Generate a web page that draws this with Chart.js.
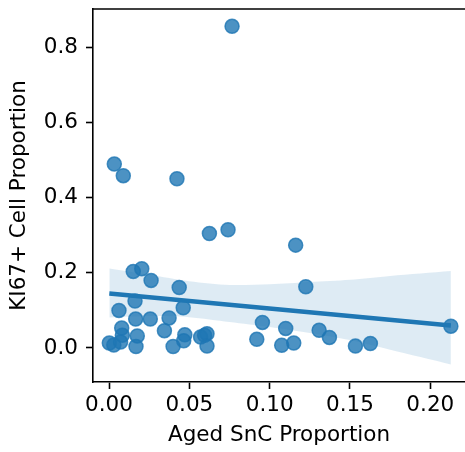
<!DOCTYPE html>
<html>
<head>
<meta charset="utf-8">
<script src="https://cdn.jsdelivr.net/npm/chart.js@4"></script>
<style>
    body { margin: 0; background: #fff; }
    #chart_box { width: 465px; height: 452px; }
</style>
</head>
<body>
<div id="chart_box"><canvas id="reg_chart" width="465" height="452"></canvas></div>
<script>
// scatter values
let aged_snc = [
    0.0766, 0.0033, 0.0089, 0.0423, 0.0625, 0.0741, 0.1162, 0.1225,
    0.0955, 0.0920, 0.1100, 0.1075, 0.1150, 0.1308, 0.1372, 0.1534,
    0.1627, 0.2128, 0.0151, 0.0204, 0.0262, 0.0437, 0.0162, 0.0462,
    0.0062, 0.0166, 0.0257, 0.0374, 0.0345, 0.0079, 0.0083, 0.0176,
    0.0472, 0.0465, 0.0399, 0.0168, 0.0002, 0.0030, 0.0072, 0.0570,
    0.0595, 0.0610, 0.0610
];
let ki67 = [
    0.857, 0.490, 0.459, 0.451, 0.305, 0.315, 0.274, 0.163,
    0.068, 0.023, 0.052, 0.007, 0.013, 0.047, 0.028, 0.005,
    0.012, 0.058, 0.204, 0.211, 0.180, 0.161, 0.125, 0.107,
    0.100, 0.077, 0.077, 0.080, 0.046, 0.053, 0.034, 0.032,
    0.035, 0.019, 0.004, 0.004, 0.013, 0.008, 0.016, 0.029,
    0.034, 0.038, 0.005
];

// regression line ends and the confidence band
let fit_x = [0.0002, 0.2128];
let fit_y = [0.145, 0.060];
let band_x = [0.0002, 0.025, 0.05, 0.075, 0.10, 0.125, 0.15, 0.175, 0.2128];
let band_upper = [0.212, 0.195, 0.178, 0.168, 0.170, 0.176, 0.182, 0.192, 0.205];
let band_lower = [0.081, 0.085, 0.082, 0.069, 0.056, 0.040, 0.021, -0.005, -0.044];

let x_ticks = [0.00, 0.05, 0.10, 0.15, 0.20];
let y_ticks = [0.0, 0.2, 0.4, 0.6, 0.8];

const blue = '#1f77b4';

Chart.defaults.font.family = "'DejaVu Sans', sans-serif";
Chart.defaults.font.size = 21.5;
Chart.defaults.color = '#000';

function pts(xs, ys) {
    return xs.map((x, i) => ({x: x, y: ys[i]}));
}

// matplotlib keeps the top spine, chart.js has none
let top_spine = {
    id: 'top_spine',
    afterDraw(chart) {
        let ctx = chart.ctx, a = chart.chartArea;
        ctx.save();
        ctx.strokeStyle = '#000';
        ctx.lineWidth = 1.6;
        ctx.beginPath();
        ctx.moveTo(a.left - 0.8, a.top);
        ctx.lineTo(a.right, a.top);
        ctx.stroke();
        ctx.restore();
    }
};

// no extra room for the end labels, the area is fixed by hand
function no_pad(s) {
    s.paddingTop = 0; s.paddingBottom = 0;
    s.paddingLeft = 0; s.paddingRight = 0;
}

let axis_grid = {drawOnChartArea: false, drawTicks: true, tickLength: 7, tickWidth: 1.6, tickColor: '#000'};
let axis_border = {display: true, color: '#000', width: 1.6};

let chart = new Chart(document.getElementById('reg_chart').getContext('2d'), {
    type: 'scatter',
    data: {
        datasets: [
            {
                data: pts(aged_snc, ki67), order: 3,
                backgroundColor: 'rgba(31,119,180,0.8)', borderColor: 'rgba(31,119,180,0.8)',
                borderWidth: 1.5, pointRadius: 7
            },
            {
                type: 'line', data: pts(band_x, band_upper), order: 2,
                borderWidth: 0, pointRadius: 0, fill: false, tension: 0.3
            },
            {
                type: 'line', data: pts(band_x, band_lower), order: 2,
                borderWidth: 0, pointRadius: 0, fill: '-1', tension: 0.3,
                backgroundColor: 'rgba(31,119,180,0.15)'
            },
            {
                type: 'line', data: pts(fit_x, fit_y), order: 1,
                borderColor: blue, borderWidth: 4.5, pointRadius: 0, fill: false
            }
        ]
    },
    options: {
        responsive: false,
        animation: false,
        devicePixelRatio: 1,
        layout: {autoPadding: false, padding: {top: 9, left: 0, right: 0, bottom: 0}},
        plugins: {legend: {display: false}, tooltip: {enabled: false}},
        scales: {
            x: {
                type: 'linear', min: -0.00996, max: 0.2216,
                grid: axis_grid, border: axis_border,
                afterBuildTicks: s => { s.ticks = x_ticks.map(v => ({value: v})); },
                afterFit: s => { s.height = 70; no_pad(s); },
                ticks: {padding: 4, maxRotation: 0, callback: v => v.toFixed(2)},
                title: {display: true, text: 'Aged SnC Proportion', padding: {top: 0, bottom: 4}}
            },
            y: {
                type: 'linear', min: -0.0907, max: 0.9032,
                grid: axis_grid, border: axis_border,
                afterBuildTicks: s => { s.ticks = y_ticks.map(v => ({value: v})); },
                afterFit: s => { s.width = 93; no_pad(s); },
                ticks: {padding: 8, callback: v => v.toFixed(1)},
                title: {display: true, text: 'KI67+ Cell Proportion', padding: {top: 7, bottom: 0}}
            }
        }
    },
    plugins: [top_spine]
});
</script>
</body>
</html>
